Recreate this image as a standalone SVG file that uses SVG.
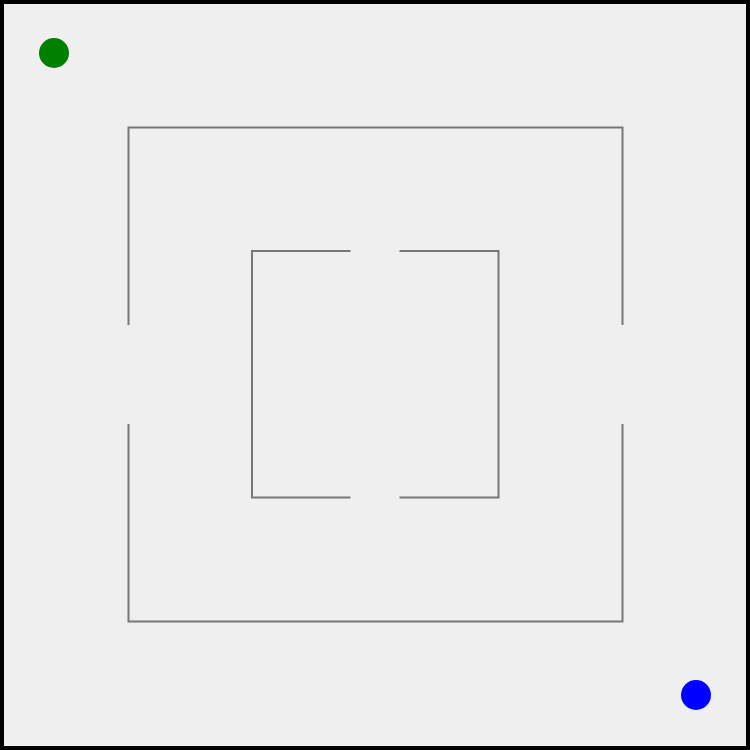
<svg xmlns="http://www.w3.org/2000/svg" width="750" height="750" viewBox="0 0 750 750">
<style>
.wall{fill:none;stroke:#777;stroke-width:2;stroke-linecap:square}
</style>
<rect x="0" y="0" width="750" height="750" fill="#efefef" stroke="#000" stroke-width="8"/>
<g id="walls">
<path class="wall" d="M128.5,324 V127.5 H622.5 V324"/>
<path class="wall" d="M128.5,425 V621.5 H622.5 V425"/>
<path class="wall" d="M349.5,251 H252 V497.5 H349.5"/>
<path class="wall" d="M400.5,251 H498.5 V497.5 H400.5"/>
</g>
<g id="start"><circle cx="54" cy="53" r="15" fill="#008000"/></g>
<g id="goal"><circle cx="696" cy="695" r="15" fill="#0000ff"/></g>
</svg>
